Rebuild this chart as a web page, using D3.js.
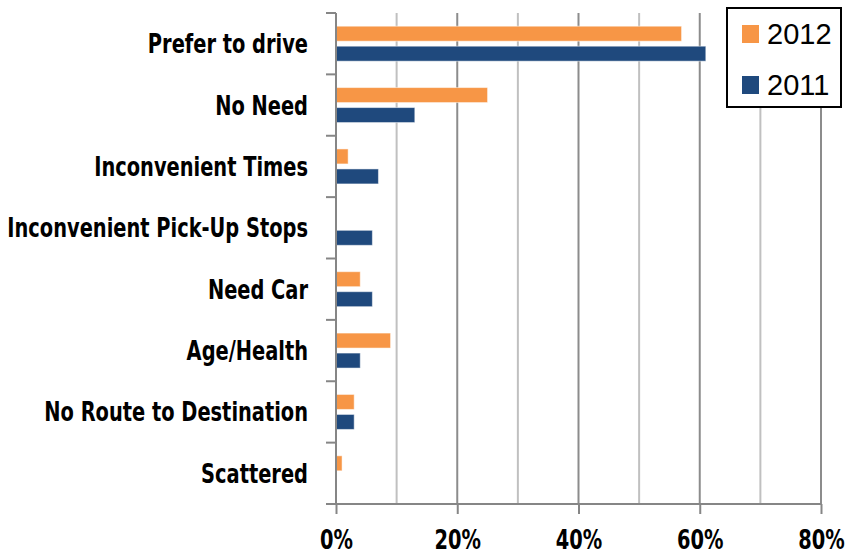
<!DOCTYPE html>
<html>
<head>
<meta charset="utf-8">
<script src="https://cdn.jsdelivr.net/npm/d3@7"></script>
<style>
  body { margin: 0; background: #fff; }
  .lbl { font-family: "DejaVu Sans Condensed", "DejaVu Sans", sans-serif; font-weight: bold; font-size: 26px; fill: #000; }
  .leg { font-family: "Liberation Sans", Arial, sans-serif; font-size: 29px; fill: #000; }
</style>
</head>
<body>
<svg id="chart" width="848" height="556"></svg>
<script>
const categories = ['Prefer to drive', 'No Need', 'Inconvenient Times', 'Inconvenient Pick-Up Stops',
  'Need Car', 'Age/Health', 'No Route to Destination', 'Scattered'];
const series = ['2012', '2011'];
const values2012 = [57, 25, 2, 0, 4, 9, 3, 1];
const values2011 = [61, 13, 7, 6, 6, 4, 3, 0];
const xTicks = [0, 20, 40, 60, 80];
const colors = ['#f79646', '#1f497d'];

const svg = d3.select('#chart');
const margin = { top: 13, right: 27, bottom: 52, left: 336 };
const W = 848, H = 556;
const axisColor = '#868686';
const labelScale = 0.83; // squeeze to look like a condensed face

const x = d3.scaleLinear().domain([0, 80]).range([margin.left, W - margin.right]);
const y0 = d3.scaleBand().domain(categories).range([margin.top, H - margin.bottom]);
const y1 = d3.scaleBand().domain(series).range([0, y0.bandwidth()])
  .paddingInner(0.25).paddingOuter(0.66);

// gridlines, every 10%, darker on the labelled ones
svg.append('g').selectAll('line')
  .data(x.ticks(8).filter(d => d > 0))
  .join('line')
  .attr('x1', d => x(d)).attr('x2', d => x(d))
  .attr('y1', margin.top).attr('y2', H - margin.bottom)
  .attr('stroke', d => d % 20 === 0 ? '#8c8c8c' : '#c0c0c0')
  .attr('stroke-width', 2);

// bars
const rows = categories.map((c, i) => ({ c, vals: [values2012[i], values2011[i]] }));
const grp = svg.append('g').selectAll('g')
  .data(rows)
  .join('g')
  .attr('transform', d => `translate(0,${y0(d.c)})`);

grp.selectAll('rect')
  .data(d => d.vals.map((v, j) => ({ s: series[j], v, j })).filter(e => e.v > 0))
  .join('rect')
  .attr('x', x(0))
  .attr('y', d => y1(d.s))
  .attr('width', d => x(d.v) - x(0))
  .attr('height', y1.bandwidth())
  .attr('fill', d => colors[d.j])
  .attr('stroke', '#fff')
  .attr('stroke-opacity', 0.5)
  .attr('stroke-width', 1);

// y axis with ticks on category boundaries
svg.append('line')
  .attr('x1', x(0)).attr('x2', x(0))
  .attr('y1', margin.top).attr('y2', H - margin.bottom)
  .attr('stroke', axisColor).attr('stroke-width', 2);

svg.append('g').selectAll('line')
  .data(categories)
  .join('line')
  .attr('x1', x(0) - 10).attr('x2', x(0))
  .attr('y1', d => y0(d)).attr('y2', d => y0(d))
  .attr('stroke', axisColor).attr('stroke-width', 2);

svg.append('g').selectAll('text')
  .data(categories)
  .join('text')
  .attr('class', 'lbl')
  .attr('text-anchor', 'end')
  .attr('transform', d => `translate(${x(0) - 28},${y0(d) + y0.bandwidth() / 2 + 9.5}) scale(${labelScale},1)`)
  .text(d => d);

// x axis
svg.append('line')
  .attr('x1', x(0) - 10).attr('x2', x(80))
  .attr('y1', H - margin.bottom).attr('y2', H - margin.bottom)
  .attr('stroke', axisColor).attr('stroke-width', 2);

const xAxis = svg.append('g')
  .attr('transform', `translate(0,${H - margin.bottom})`)
  .call(d3.axisBottom(x).tickValues(xTicks).tickFormat(d => d + '%').tickSize(10).tickPadding(17));
xAxis.select('.domain').remove();
xAxis.selectAll('.tick line').attr('stroke', axisColor).attr('stroke-width', 2);
xAxis.selectAll('.tick text')
  .attr('class', 'lbl')
  .attr('transform', `scale(${labelScale},1)`);
xAxis.attr('font-size', null).attr('font-family', null);

// legend
const leg = svg.append('g');
leg.append('rect')
  .attr('x', 727).attr('y', 8).attr('width', 114).attr('height', 99)
  .attr('fill', '#fff').attr('stroke', '#000').attr('stroke-width', 2);
const li = leg.selectAll('g.item')
  .data(series)
  .join('g')
  .attr('class', 'item')
  .attr('transform', (d, i) => `translate(742,${25 + i * 51})`);
li.append('rect').attr('width', 17).attr('height', 18).attr('fill', (d, i) => colors[i]);
li.append('text').attr('class', 'leg').attr('x', 25).attr('y', 19).text(d => d);
</script>
</body>
</html>
